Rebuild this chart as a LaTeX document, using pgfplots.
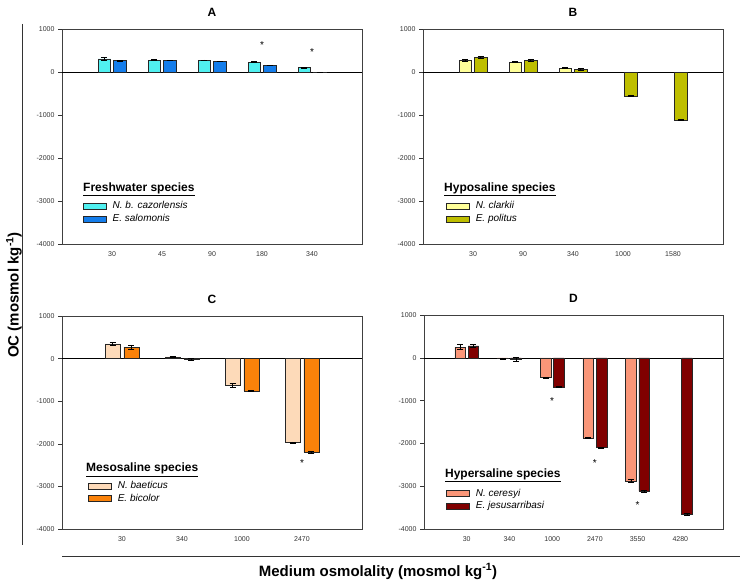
\documentclass[border=0pt]{standalone}
\usepackage{pgfplots}
\pgfplotsset{compat=1.18}
\usepackage{fontspec}
\setmainfont{Liberation Sans}

\definecolor{cA1}{RGB}{80,240,240}
\definecolor{cA2}{RGB}{20,125,235}
\definecolor{cB1}{RGB}{255,255,153}
\definecolor{cB2}{RGB}{190,190,0}
\definecolor{cC1}{RGB}{253,218,185}
\definecolor{cC2}{RGB}{250,130,10}
\definecolor{cD1}{RGB}{250,150,120}
\definecolor{cD2}{RGB}{128,0,0}

\tikzset{
  ttl/.style={anchor=base west, font=\bfseries\fontsize{12}{14}\selectfont, inner sep=0pt},
  star/.style={font=\fontsize{10}{12}\selectfont},
}

\pgfplotsset{
  panel/.style={
    scale only axis,
    ymin=-4000, ymax=1000,
    ytick={-4000,-3000,-2000,-1000,0,1000},
    yticklabels={-4000,-3000,-2000,-1000,0,1000},
    tick label style={font=\fontsize{7}{8}\selectfont, text=black!80},
    /pgf/number format/assume math mode=true,
    xtick style={draw=none},
    ytick style={black!80, line width=0.5pt},
    tick align=outside, major tick length=4pt,
    ytick pos=left, xtick pos=bottom,
    axis line style={draw=black!75, line width=0.7pt},
    title style={font=\bfseries\fontsize{12}{14}\selectfont, yshift=3pt},
    legend image code/.code={\draw[#1, line width=0.5pt] (0pt,-3pt) rectangle (23pt,3pt);},
    legend style={anchor=north west, draw=none, fill=none,
      font=\itshape\fontsize{10}{12}\selectfont, inner sep=0pt, row sep=3.8pt,
      nodes={inner sep=0pt, text height=7pt, text depth=2pt},
      /tikz/every odd column/.append style={column sep=6pt},
      cells={anchor=west}},
  },
  eb/.style={
    error bars/y dir=both, error bars/y explicit,
    error bars/error bar style={black, line width=0.6pt},
    error bars/error mark options={black, rotate=90, mark size=3pt, line width=0.6pt}},
  bb/.style={ybar, bar width=0.25, bar shift=0, draw=black!85, line width=0.5pt, eb},
  zl/.style={black, line width=0.6pt, forget plot},
}

\begin{document}
\begin{tikzpicture}
\path[use as bounding box] (0pt,0pt) rectangle (741pt,-580pt);

% ---------- A ----------
\begin{axis}[panel, at={(62pt,-244pt)}, anchor=south west, width=300pt, height=215pt,
  xmin=-1, xmax=5, xtick={0,1,2,3,4}, xticklabels={30,45,90,180,340},
  title={A}, legend style={at={(0.07,0.197)}}]
\addplot[zl] coordinates {(-1,0) (5,0)};
\addplot[bb, fill=cA1] table[x expr=\thisrow{x}-0.155, y=y, y error=e] {
x y e
0 308 25
1 277 10
2 272 10
3 230 10
4 100 15
};
\addplot[bb, fill=cA2] table[x expr=\thisrow{x}+0.155, y=y, y error=e] {
x y e
0 262 5
1 270 8
2 246 8
3 154 8
4 -10 5
};
\legend{N. b. cazorlensis, E. salomonis}
\node[ttl] at (rel axis cs:0.07,0.244) {\underline{Freshwater species}};
\node[star] at (axis cs:3,615) {*};
\node[star] at (axis cs:4,460) {*};
\end{axis}

% ---------- B ----------
\begin{axis}[panel, at={(423pt,-244pt)}, anchor=south west, width=300pt, height=215pt,
  xmin=-1, xmax=5, xtick={0,1,2,3,4}, xticklabels={30,90,340,1000,1580},
  title={B}, legend style={at={(0.077,0.197)}}]
\addplot[zl] coordinates {(-1,0) (5,0)};
\addplot[bb, fill=cB1] table[x expr=\thisrow{x}-0.155, y=y, y error=e] {
x y e
0 270 15
1 230 10
2 92 15
};
\addplot[bb, fill=cB2] table[x expr=\thisrow{x}+0.155, y=y, y error=e] {
x y e
0 338 25
1 277 25
2 62 30
3 -554 20
4 -1115 10
};
\legend{N. clarkii, E. politus}
\node[ttl] at (rel axis cs:0.07,0.244) {\underline{Hyposaline species}};
\end{axis}

% ---------- C ----------
\begin{axis}[panel, at={(62pt,-529pt)}, anchor=south west, width=300pt, height=213pt,
  xmin=-1, xmax=4, xtick={0,1,2,3}, xticklabels={30,340,1000,2470},
  title={C}, legend style={at={(0.087,0.225)}}]
\addplot[zl] coordinates {(-1,0) (4,0)};
\addplot[bb, fill=cC1] table[x expr=\thisrow{x}-0.155, y=y, y error=e] {
x y e
0 346 40
1 40 20
2 -630 45
3 -1975 20
};
\addplot[bb, fill=cC2] table[x expr=\thisrow{x}+0.155, y=y, y error=e] {
x y e
0 268 55
1 -20 30
2 -760 10
3 -2200 25
};
\legend{N. baeticus, E. bicolor}
\node[ttl] at (rel axis cs:0.08,0.268) {\underline{Mesosaline species}};
\node[star] at (axis cs:3,-2450) {*};
\end{axis}

% ---------- D ----------
\begin{axis}[panel, at={(424pt,-529pt)}, anchor=south west, width=299pt, height=214pt,
  xmin=-1, xmax=6, xtick={0,1,2,3,4,5}, xticklabels={30,340,1000,2470,3550,4280},
  title={D}, legend style={at={(0.074,0.187)}}]
\addplot[zl] coordinates {(-1,0) (6,0)};
\addplot[bb, fill=cD1] table[x expr=\thisrow{x}-0.155, y=y, y error=e] {
x y e
0 248 60
1 -20 20
2 -465 15
3 -1876 10
4 -2876 40
};
\addplot[bb, fill=cD2] table[x expr=\thisrow{x}+0.155, y=y, y error=e] {
x y e
0 279 40
1 -30 45
2 -682 15
3 -2093 10
4 -3116 20
5 -3651 25
};
\legend{N. ceresyi, E. jesusarribasi}
\node[ttl] at (rel axis cs:0.07,0.243) {\underline{Hypersaline species}};
\node[star] at (axis cs:2,-1000) {*};
\node[star] at (axis cs:3,-2470) {*};
\node[star] at (axis cs:4,-3440) {*};
\end{axis}

% ---------- frame lines and shared labels ----------
\draw[black!80, line width=1pt] (22pt,-24pt) -- (22pt,-545pt);
\draw[black!80, line width=1pt] (62pt,-556pt) -- (740pt,-556pt);
\node[rotate=90, font=\bfseries\fontsize{15}{17}\selectfont] at (14pt,-295pt) {OC (mosmol kg\textsuperscript{-1})};
\node[anchor=base, font=\bfseries\fontsize{15}{17}\selectfont, inner sep=0pt] at (378pt,-576pt) {Medium osmolality (mosmol kg\textsuperscript{-1})};
\end{tikzpicture}
\end{document}
